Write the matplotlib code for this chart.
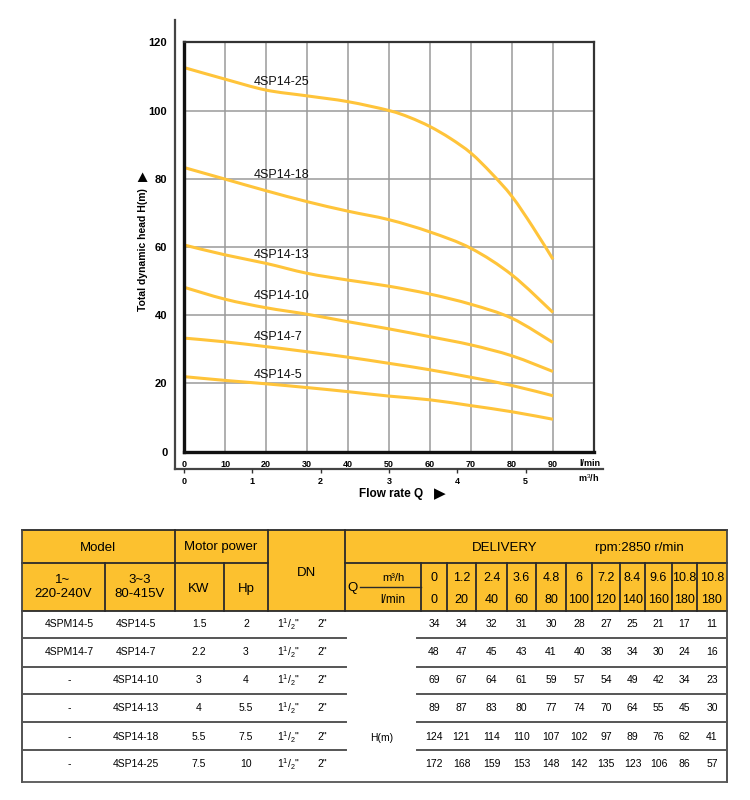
import numpy as np
import matplotlib.pyplot as plt
import matplotlib.patches as mpatches
from matplotlib.path import Path

plt.rcParams['font.family'] = ['Liberation Sans', 'DejaVu Sans']
plt.rcParams['mathtext.fontset'] = 'custom'
plt.rcParams['mathtext.rm'] = 'Liberation Sans'

# ---- curve data (flow in l/min, head in m) ----
q_lmin = [0, 10, 20, 30, 40, 50, 60, 70, 80, 90]
q_25 = [0, 10, 20, 30, 40, 50, 55, 60, 65, 70, 75, 80, 85, 90]
h_25 = [112.6, 109.2, 106.0, 104.3, 102.6, 100.0, 98.0, 95.3, 91.8, 87.5, 81.6, 74.8, 66.0, 56.4]
h_18 = [83.3, 79.9, 76.5, 73.3, 70.5, 68.0, 64.4, 59.6, 51.8, 40.8]
h_13 = [60.6, 57.7, 55.2, 52.3, 50.3, 48.5, 46.2, 43.2, 39.1, 32.0]
h_10 = [48.2, 44.7, 42.2, 40.3, 38.1, 36.0, 33.7, 31.3, 28.1, 23.5]
h_7 = [33.3, 32.2, 30.8, 29.3, 27.7, 25.9, 24.0, 21.8, 19.4, 16.4]
h_5 = [22.0, 20.9, 19.9, 18.8, 17.6, 16.3, 15.2, 13.5, 11.7, 9.5]

curve_names = ['4SP14-25', '4SP14-18', '4SP14-13', '4SP14-10', '4SP14-7', '4SP14-5']
label_y = [108.4, 81.0, 57.6, 45.6, 33.6, 22.5]

# ---- table data ----
model_1ph = ['4SPM14-5', '4SPM14-7', '-', '-', '-', '-']
model_3ph = ['4SP14-5', '4SP14-7', '4SP14-10', '4SP14-13', '4SP14-18', '4SP14-25']
power_kw = ['1.5', '2.2', '3', '4', '5.5', '7.5']
power_hp = ['2', '3', '4', '5.5', '7.5', '10']
q_m3h = ['0', '1.2', '2.4', '3.6', '4.8', '6', '7.2', '8.4', '9.6', '10.8', '10.8']
q_lmin_tab = ['0', '20', '40', '60', '80', '100', '120', '140', '160', '180', '180']
heads = [
    [34, 34, 32, 31, 30, 28, 27, 25, 21, 17, 11],
    [48, 47, 45, 43, 41, 40, 38, 34, 30, 24, 16],
    [69, 67, 64, 61, 59, 57, 54, 49, 42, 34, 23],
    [89, 87, 83, 80, 77, 74, 70, 64, 55, 45, 30],
    [124, 121, 114, 110, 107, 102, 97, 89, 76, 62, 41],
    [172, 168, 159, 153, 148, 142, 135, 123, 106, 86, 57],
]

YEL = '#FFC43A'
HDR = '#FCC12F'


def smooth_path(xs, ys):
    # bezier path through the read points (catmull-rom style)
    p = np.column_stack([xs, ys]).astype(float)
    ext = np.vstack([p[0], p, p[-1]])
    verts = [p[0]]
    codes = [Path.MOVETO]
    for i in range(len(p) - 1):
        a, b, c, d = ext[i], ext[i + 1], ext[i + 2], ext[i + 3]
        verts += [b + (c - a) / 6, c - (d - b) / 6, c]
        codes += [Path.CURVE4] * 3
    return Path(verts, codes)


fig = plt.figure(figsize=(7.5, 8), dpi=100)

# overlay in pixel coords for table and outer frame
ov = fig.add_axes([0, 0, 1, 1])
ov.set_xlim(0, 750)
ov.set_ylim(800, 0)
ov.axis('off')

# ---- chart ----
ax = fig.add_axes([184 / 750, 1 - 451.7 / 800, 410 / 750, 409.4 / 800])
ax.set_xlim(0, 100)
ax.set_ylim(0, 120)
ax.set_xticks(range(0, 100, 10))
ax.set_yticks(range(0, 121, 20))
ax.grid(True, color='#9a9a9a', lw=1.1)
ax.set_axisbelow(True)
for s in ['left', 'bottom']:
    ax.spines[s].set_linewidth(2.4)
    ax.spines[s].set_color('#111111')
for s in ['top', 'right']:
    ax.spines[s].set_linewidth(1.6)
    ax.spines[s].set_color('#333333')
ax.tick_params(axis='both', length=0)
ax.tick_params(axis='x', pad=6, labelsize=6.5)
ax.tick_params(axis='y', pad=12, labelsize=8)
for t in ax.get_xticklabels() + ax.get_yticklabels():
    t.set_fontweight('bold')

all_h = [h_25, h_18, h_13, h_10, h_7, h_5]
for i, (name, h) in enumerate(zip(curve_names, all_h)):
    qq = q_25 if i == 0 else q_lmin
    ax.add_patch(mpatches.PathPatch(smooth_path(qq, h), fill=False, edgecolor=YEL,
                                    lw=2.2, capstyle='butt'))
    ax.text(17, label_y[i], name, fontsize=9, va='center', ha='left', color='#111111')

sec = ax.secondary_xaxis(-0.042, functions=(lambda q: q * 0.06, lambda m: m / 0.06))
sec.set_xticks(range(0, 6))
sec.spines['bottom'].set_visible(False)
sec.tick_params(length=3, width=1, pad=3, labelsize=6.5, color='#333333')
for t in sec.get_xticklabels():
    t.set_fontweight('bold')

ov.plot([175, 175], [20, 469], color='#444444', lw=1.6)
ov.plot([175, 603], [469, 469], color='#444444', lw=1.6)
ov.text(590, 463, 'l/min', fontsize=6.5, fontweight='bold', ha='center', va='center')
ov.text(589, 478, 'm$^3$/h', fontsize=6.5, fontweight='bold', ha='center', va='center')
ov.text(359, 494, 'Flow rate Q', fontsize=8.5, fontweight='bold', ha='left', va='center')
ov.text(440, 494, '\u25B6', fontsize=11, ha='center', va='center', family='DejaVu Sans')
ov.text(143, 250, 'Total dynamic head H(m)', fontsize=7.5, fontweight='bold',
        rotation=90, ha='center', va='center')
ov.text(143, 176, '\u25B6', fontsize=9, rotation=90, ha='center', va='center', family='DejaVu Sans')

# ---- table ----
x0, x1 = 22, 727
y_top, y_mid, y_hdr = 530, 563, 611
row_lines = [638, 667, 694, 722, 750]
y_bot = 782
row_y = [624, 652, 680, 708, 737, 764]
col_edges = [421, 447, 476, 507, 536, 566, 592, 620, 645, 672, 697, 727]
col_c = [(a + b) / 2 for a, b in zip(col_edges[:-1], col_edges[1:])]

ov.add_patch(mpatches.Rectangle((x0, y_top), x1 - x0, y_hdr - y_top, facecolor=HDR, edgecolor='none'))
lc = '#2a2a2a'
lw = 1.3
ov.plot([x0, x1], [y_top, y_top], color=lc, lw=lw)
ov.plot([x0, 268], [y_mid, y_mid], color=lc, lw=lw)
ov.plot([345, x1], [y_mid, y_mid], color=lc, lw=lw)
ov.plot([x0, x1], [y_hdr, y_hdr], color=lc, lw=lw)
for xv in [175, 268, 345]:
    ov.plot([xv, xv], [y_top, y_hdr], color=lc, lw=lw)
for xv in [105, 224] + col_edges[:-1]:
    ov.plot([xv, xv], [y_mid, y_hdr], color=lc, lw=lw)
ov.plot([x0, x0], [y_top, y_bot], color='#444444', lw=lw)
ov.plot([x1, x1], [y_top, y_bot], color='#444444', lw=lw)
ov.plot([x0, x1], [y_bot, y_bot], color='#555555', lw=lw)
ov.plot([360, 421], [587, 587], color=lc, lw=1.0)
for yv in row_lines:
    ov.plot([x0, 346], [yv, yv], color='#555555', lw=1.4)
    ov.plot([417, x1], [yv, yv], color='#555555', lw=1.4)

hfs = 9.5
ov.text(98, 548, 'Model', fontsize=hfs, ha='center', va='center')
ov.text(221, 547, 'Motor power', fontsize=hfs, ha='center', va='center')
ov.text(306, 573, 'DN', fontsize=hfs, ha='center', va='center')
ov.text(505, 548, 'DELIVERY', fontsize=hfs, ha='center', va='center')
ov.text(639, 548, 'rpm:2850 r/min', fontsize=hfs, ha='center', va='center')
ov.text(63, 587, '1~\n220-240V', fontsize=hfs, ha='center', va='center', linespacing=1.25)
ov.text(140, 587, '3~3\n80-415V', fontsize=hfs, ha='center', va='center', linespacing=1.25)
ov.text(199, 589, 'KW', fontsize=hfs, ha='center', va='center')
ov.text(246, 589, 'Hp', fontsize=hfs, ha='center', va='center')
ov.text(352, 588, 'Q', fontsize=hfs, ha='center', va='center')
ov.text(393, 578, 'm\u00b3/h', fontsize=8, ha='center', va='center')
ov.text(393, 600, 'l/min', fontsize=8.5, ha='center', va='center')
for c, a, b in zip(col_c, q_m3h, q_lmin_tab):
    ov.text(c, 578, a, fontsize=9, ha='center', va='center')
    ov.text(c, 600, b, fontsize=9, ha='center', va='center')

dfs = 7.5
for i, y in enumerate(row_y):
    ov.text(69, y, model_1ph[i], fontsize=dfs, ha='center', va='center')
    ov.text(136, y, model_3ph[i], fontsize=dfs, ha='center', va='center')
    ov.text(199, y, power_kw[i], fontsize=dfs, ha='center', va='center')
    ov.text(246, y, power_hp[i], fontsize=dfs, ha='center', va='center')
    ov.text(288, y, r'1$^{1}$/$_{2}$"', fontsize=dfs, ha='center', va='center')
    ov.text(322, y, '2"', fontsize=dfs, ha='center', va='center')
    for c, v in zip(col_c, heads[i]):
        ov.text(c, y, str(v), fontsize=dfs, ha='center', va='center')
ov.text(382, 738, 'H(m)', fontsize=dfs, ha='center', va='center')

fig.savefig('out.png', dpi=100)
